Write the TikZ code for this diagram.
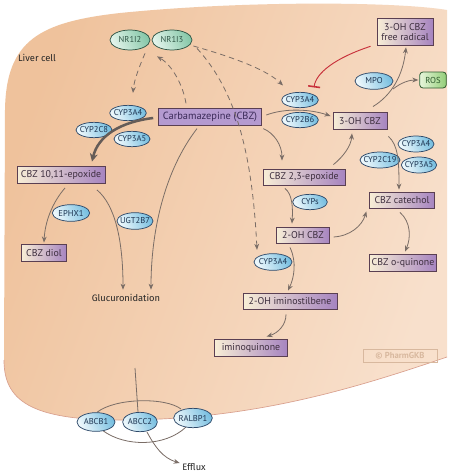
\documentclass[tikz,border=0pt]{standalone}
\usepackage{fontspec}
\setmainfont{PT Sans}
\newfontfamily\handfont{Fira Sans}
\usetikzlibrary{shapes.geometric,arrows.meta,calc}
\pgfdeclarelayer{bg}
\pgfdeclarelayer{mid}
\pgfsetlayers{bg,mid,main}
\definecolor{celll}{HTML}{EFC29C}
\definecolor{cellr}{HTML}{F8E0CC}
\definecolor{cellline}{HTML}{D9A08E}
\definecolor{protl}{HTML}{EEF8FC}
\definecolor{protr}{HTML}{78BFE0}
\definecolor{protline}{HTML}{2F4A6A}
\definecolor{prottxt}{HTML}{1E3552}
\definecolor{nrl}{HTML}{E2F4EB}
\definecolor{nrr}{HTML}{86C7A8}
\definecolor{nrline}{HTML}{2F5545}
\definecolor{metl}{HTML}{F8EED6}
\definecolor{metr}{HTML}{A684C0}
\definecolor{metline}{HTML}{5A3F52}
\definecolor{mettxt}{HTML}{3D2E3E}
\definecolor{cbzfill}{HTML}{B49AD0}
\definecolor{cbztxt}{HTML}{3A2A58}
\definecolor{rosl}{HTML}{E6F5DA}
\definecolor{rosr}{HTML}{93CE78}
\definecolor{rosline}{HTML}{2E5A2E}
\definecolor{arrc}{HTML}{7A6D66}
\definecolor{thickc}{HTML}{655C58}
\definecolor{inhib}{HTML}{C8323C}
\definecolor{wm}{HTML}{D8B89E}
\newcommand\mkz[1]{\makebox[0pt]{#1}}
\tikzset{
  prot/.style={ellipse, draw=protline, line width=0.55pt, left color=protl, right color=protr, shading angle=115, inner sep=0pt, text=prottxt, font=\fontsize{6.4}{7}\selectfont},
  nrbox/.style={prot, left color=nrl, right color=nrr, shading angle=115, draw=nrline, text=nrline},
  met/.style={rectangle, draw=metline, line width=0.7pt, left color=metl, right color=metr, inner sep=0pt, text=mettxt, font=\fontsize{7.4}{8.5}\selectfont},
  cbzbox/.style={rectangle, draw=metline, line width=0.7pt, fill=cbzfill, inner sep=0pt, text=cbztxt, font=\fontsize{7.8}{9}\selectfont},
  rosbox/.style={rectangle, rounded corners=2.5pt, draw=rosline, line width=0.6pt, left color=rosl, right color=rosr, inner sep=0pt, text=rosline, font=\fontsize{6.5}{7.5}\selectfont},
  hand/.style={inner sep=1pt, text=black!85, font=\handfont\fontsize{7}{8}\selectfont},
  arr/.style={draw=arrc, line width=0.6pt, -{Stealth[length=4.5pt,width=3.6pt]}},
  darr/.style={arr, dash pattern=on 4pt off 3pt},
  thickarr/.style={draw=thickc, line width=1.9pt, -{Stealth[length=6pt,width=6pt]}},
  inh/.style={draw=inhib, line width=0.7pt, -{Bar[width=9pt,line width=1.2pt]}},
  memb/.style={draw=arrc, line width=0.6pt},
}
\begin{document}
\begin{tikzpicture}[x=0.75pt,y=-0.75pt]
\useasboundingbox (0,0) rectangle (450,475);
\begin{pgfonlayer}{bg}
\fill[white] (0,0) rectangle (450,475);
\shade[left color=celll, right color=cellr, shading angle=70]
  (4,360) -- (5,110) .. controls (6,40) and (40,22) .. (120,13)
  .. controls (250,0) and (400,2) .. (447,10) -- (447,357)
  .. controls (350,390) and (250,420) .. (120,420)
  .. controls (30,420) and (4,400) .. (4,360) -- cycle;
\draw[cellline, line width=0.5pt]
  (447,357) .. controls (350,390) and (250,420) .. (120,420)
  .. controls (30,420) and (4,400) .. (4,360);
\end{pgfonlayer}

% text labels
\node[hand] (liver) at (37,58) {Liver cell};
\node[hand] (gluc) at (126,298) {Glucuronidation};
\node[hand] (efflux) at (194,467) {Efflux};

% nuclear receptors
\node[nrbox, minimum width=30pt, minimum height=15pt] (nr1i2) at (130,40) {\mkz{NR1I2}};
\node[nrbox, minimum width=30pt, minimum height=15pt] (nr1i3) at (172,40) {\mkz{NR1I3}};

% metabolites
\node[cbzbox, minimum width=77pt, minimum height=13pt] (cbz) at (210,117) {Carbamazepine (CBZ)};
\node[met, minimum width=66pt, minimum height=12.75pt] (e1011) at (61,175) {CBZ 10,11-epoxide};
\node[met, minimum width=34pt, minimum height=12.75pt] (diol) at (44,253) {CBZ diol};
\node[met, minimum width=40.5pt, minimum height=12.75pt] (oh3) at (360,121) {3-OH CBZ};
\node[met, minimum width=42pt, minimum height=20pt, align=center, font=\fontsize{7.4}{8}\selectfont] (fr) at (405,32) {3-OH CBZ\\free radical};
\node[rosbox, minimum width=20pt, minimum height=12pt] (ros) at (433,80) {ROS};
\node[met, minimum width=61.5pt, minimum height=12pt] (e23) at (304,177) {CBZ 2,3-epoxide};
\node[met, minimum width=40pt, minimum height=12pt] (oh2) at (303,235) {2-OH CBZ};
\node[met, minimum width=70.5pt, minimum height=12pt] (imino) at (290,301) {2-OH iminostilbene};
\node[met, minimum width=55pt, minimum height=12.75pt] (iq) at (251,348) {iminoquinone};
\node[met, minimum width=49pt, minimum height=12pt] (cat) at (402,200) {CBZ catechol};
\node[met, minimum width=50pt, minimum height=12.75pt] (oq) at (403,263) {CBZ o-quinone};

% enzymes
\node[prot, minimum width=27.5pt, minimum height=11.5pt] (cyp3a4l) at (128,113) {\mkz{CYP3A4}};
\node[prot, minimum width=27pt, minimum height=11.5pt] (cyp2c8) at (94,130) {\mkz{CYP2C8}};
\node[prot, minimum width=27pt, minimum height=11.5pt] (cyp3a5l) at (132,139) {\mkz{CYP3A5}};
\node[prot, minimum width=28pt, minimum height=12.5pt] (ephx1) at (71,213) {\mkz{EPHX1}};
\node[prot, minimum width=27pt, minimum height=12.5pt] (ugt2b7) at (135,221) {\mkz{UGT2B7}};
\node[prot, minimum width=27.5pt, minimum height=11.5pt] (cyp3a4r) at (300,100) {\mkz{CYP3A4}};
\node[prot, minimum width=27.5pt, minimum height=11.5pt] (cyp2b6) at (300,120) {\mkz{CYP2B6}};
\node[prot, minimum width=28.5pt, minimum height=12.5pt] (mpo) at (374,81) {\mkz{MPO}};
\node[prot, minimum width=26pt, minimum height=11.5pt] (cyps) at (310,202) {\mkz{CYPs}};
\node[prot, minimum width=28.5pt, minimum height=12.5pt] (cyp3a4b) at (273,262) {\mkz{CYP3A4}};
\node[prot, minimum width=27pt, minimum height=12pt] (cyp3a4rr) at (416,144) {\mkz{CYP3A4}};
\node[prot, minimum width=30pt, minimum height=12pt] (cyp2c19) at (380,160) {\mkz{CYP2C19}};
\node[prot, minimum width=26.5pt, minimum height=12pt] (cyp3a5rr) at (419,165) {\mkz{CYP3A5}};
\node[prot, minimum width=28.5pt, minimum height=14pt] (abcb1) at (96,422) {\mkz{ABCB1}};
\node[prot, minimum width=26pt, minimum height=14.5pt] (abcc2) at (140,422) {\mkz{ABCC2}};
\node[prot, minimum width=29pt, minimum height=14.5pt] (ralbp1) at (193,418) {\mkz{RALBP1}};

% watermark
\node[draw=wm, line width=0.6pt, text=wm, inner sep=0pt, minimum width=55.5pt, minimum height=10pt, font=\bfseries\fontsize{6.5}{7}\selectfont] (wmk) at (400,356) {© PharmGKB};

% membrane transport
\begin{pgfonlayer}{mid}
\draw[memb] ($(abcb1.north)+(1,0)$) .. controls (115,398) and (165,397) .. ($(ralbp1.north)+(-12,1)$);
\draw[memb] ($(abcb1.south)+(7,-1)$) .. controls (125,447) and (165,447) .. ($(ralbp1.south)+(-7,-1)$);
\end{pgfonlayer}
\coordinate (mem) at (135,368);
\draw[memb] (mem) -- ($(abcc2.north)+(-2,0)$);
\draw[arr] ($(abcc2.south)+(7,0)$) .. controls (155,447) and (163,458) .. ($(efflux.west)+(-1,-4)$);

% dashed regulation
\draw[darr] ($(nr1i2.south)+(15,3)$) .. controls (140,65) and (134,80) .. ($(cyp3a4l.north)+(5,-12)$);
\draw[darr] ($(cbz.north)+(-24,-4.5)$) .. controls (183,85) and (172,65) .. ($(nr1i3.south)+(-15,6)$);
\draw[darr] ($(nr1i3.east)+(1,6)$) .. controls (225,55) and (265,68) .. ($(cyp3a4r.north)+(-17,-6.5)$);
\draw[darr] ($(nr1i3.south)+(25,-2)$) .. controls (235,90) and (252,150) .. ($(cyp3a4b.north)+(-16,-3.5)$);

% left branch
\draw[thickarr] ($(cbz.west)+(-5,1)$) .. controls (120,122) and (98,136) .. ($(e1011.north)+(31,-4.5)$);
\draw[arr] ($(e1011.south)+(4,4)$) .. controls (52,203) and (45,222) .. ($(diol.north)+(0,-1.5)$);
\draw[arr] ($(e1011.south)+(36,6)$) .. controls (115,205) and (123,240) .. ($(gluc.north)+(-3,-3)$);
\draw[arr] ($(cbz.south)+(-13,2.5)$) .. controls (165,170) and (151,230) .. ($(gluc.north)+(25,-3)$);

% right branch
\draw[arr] ($(cbz.east)+(4.5,-2)$) .. controls (285,108) and (310,109) .. ($(oh3.west)+(-2,-5)$);
\draw[arr] ($(cbz.south east)+(1.5,2.5)$) .. controls (274,133) and (282,145) .. ($(e23.north)+(-22,-8)$);
\draw[arr] ($(e23.north east)+(-12,-4)$) .. controls (343,157) and (351,146) .. ($(oh3.south)+(-8,3.5)$);
\draw[inh] ($(fr.south west)+(-6,0.5)$) .. controls (335,58) and (316,73) .. ($(cyp3a4r.north)+(14,-4.5)$);
\draw[arr] ($(oh3.north)+(13,-5.5)$) .. controls (392,95) and (403,75) .. ($(fr.south)+(1,1.5)$);
\coordinate (br) at (393,89);
\draw[arr] (br) .. controls (402,82) and (410,80) .. ($(ros.west)+(-1,0)$);
\draw[arr] ($(oh3.south east)+(1,6.5)$) .. controls (398,145) and (399,160) .. ($(cat.north)+(-3,-2)$);
\draw[arr] ($(e23.south)+(-19,3)$) .. controls (292,194) and (293,206) .. ($(oh2.north)+(-11,-3)$);
\draw[arr] ($(oh2.east)+(3.5,2)$) .. controls (350,236) and (362,226) .. ($(cat.south west)+(-2.5,3)$);
\draw[arr] ($(oh2.south)+(-13,4)$) .. controls (297,262) and (294,278) .. ($(imino.north)+(-2,-2)$);
\draw[arr] ($(imino.south)+(-4,5)$) .. controls (286,325) and (278,333) .. ($(iq.north east)+(-21.5,-2.5)$);
\draw[arr] ($(cat.south)+(-2,4)$) .. controls (411,222) and (411,238) .. ($(oq.north)+(2,-2.5)$);
\end{tikzpicture}
\end{document}
